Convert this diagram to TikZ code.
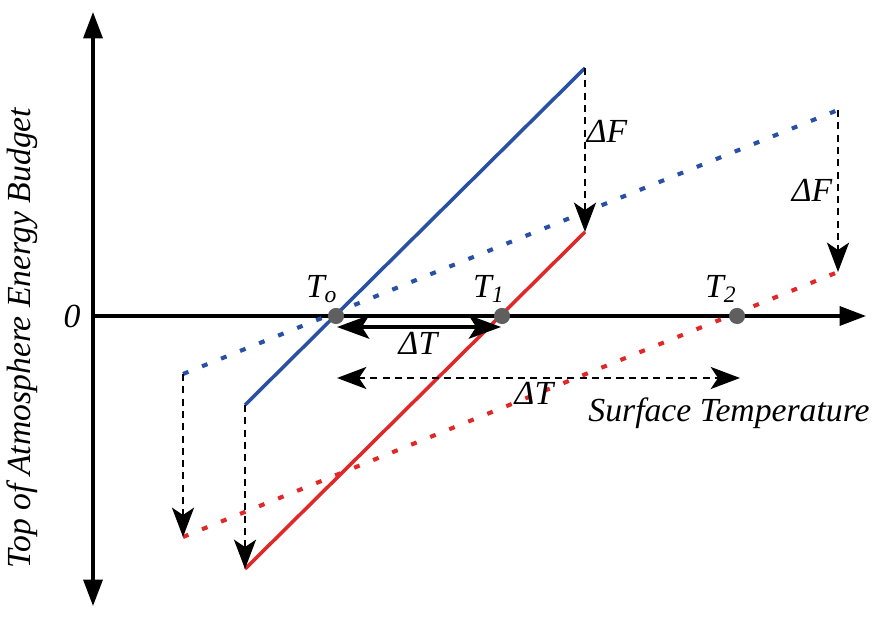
\documentclass[tikz,border=0pt]{standalone}
\usepackage{fontspec}
\setmainfont{Liberation Serif}
\usetikzlibrary{arrows.meta}
\definecolor{lineblue}{RGB}{40,80,165}
\definecolor{linered}{RGB}{225,40,40}
\definecolor{dotgray}{RGB}{95,95,95}
\begin{document}
\begin{tikzpicture}[x=0.012cm,y=-0.012cm,line width=1.1pt,
  font=\fontsize{11.5}{13}\selectfont\itshape,
  axis tip/.style={-{Triangle[length=9pt,width=6.5pt]}},
  flux/.style={line width=1.2pt},
  flux dotted/.style={line width=1.4pt,dash pattern=on 2pt off 5pt},
  forcing/.style={line width=.95pt,dash pattern=on 2.4pt off 1.8pt,-{Stealth[length=10pt,width=7.5pt,inset=2.5pt]}},
  point/.style={circle,fill=dotgray,inner sep=0pt,minimum size=5.5pt}]
  \useasboundingbox (0,0) rectangle (873,618);
  % axes
  \coordinate (o) at (93,316);
  \coordinate (ytop) at (93,12);
  \coordinate (ybot) at (93,606);
  \coordinate (xend) at (866,316);
  \draw[{Triangle[length=9pt,width=6.5pt]}-{Triangle[length=9pt,width=6.5pt]}] (ybot)--(ytop);
  \draw[axis tip] (o)--(xend);
  \node (zero) at (72,316) {0};
  \node[rotate=90] (ylab) at (22,338) {Top of Atmosphere Energy Budget};
  \node (xlab) at (729,413) {Surface Temperature};
  % flux lines
  \coordinate (b1) at (245,405); \coordinate (b2) at (585,68);
  \coordinate (r1) at (245,569); \coordinate (r2) at (585,232);
  \coordinate (bd1) at (183,374); \coordinate (bd2) at (838,110);
  \coordinate (rd1) at (183,537); \coordinate (rd2) at (838,272);
  \draw[flux,lineblue] (b1)--(b2);
  \draw[flux,linered] (r1)--(r2);
  \draw[flux dotted,lineblue] (bd1)--(bd2);
  \draw[flux dotted,linered] (rd1)--(rd2);
  % forcing shifts
  \draw[forcing] (b2)--(r2);
  \draw[forcing] (bd2)--(rd2);
  \draw[forcing] (bd1)--(rd1);
  \draw[forcing] (b1)--(r1);
  \node (dF1) at (607,131) {ΔF};
  \node (dF2) at (812,190) {ΔF};
  % equilibrium points
  \node[point] (T0) at (336,316) {};
  \node[point] (T1) at (502,316) {};
  \node[point] (T2) at (737,316) {};
  \node (T0lab) at (322,289) {T\textsubscript{o}};
  \node (T1lab) at (489,289) {T\textsubscript{1}};
  \node (T2lab) at (721,289) {T\textsubscript{2}};
  \coordinate (dTa) at (337,327); \coordinate (dTb) at (501,327);
  \coordinate (dTc) at (337,378); \coordinate (dTd) at (740,378);
  \draw[{Stealth[length=11pt,width=8pt,inset=2.5pt]}-{Stealth[length=11pt,width=8pt,inset=2.5pt]},line width=1.1pt] (dTa)--(dTb);
  \draw[forcing,{Stealth[length=10pt,width=7.5pt,inset=2.5pt]}-{Stealth[length=10pt,width=7.5pt,inset=2.5pt]}] (dTc)--(dTd);
  \node (dT1) at (418,343) {ΔT};
  \node (dT2) at (534,393) {ΔT};
\end{tikzpicture}
\end{document}
